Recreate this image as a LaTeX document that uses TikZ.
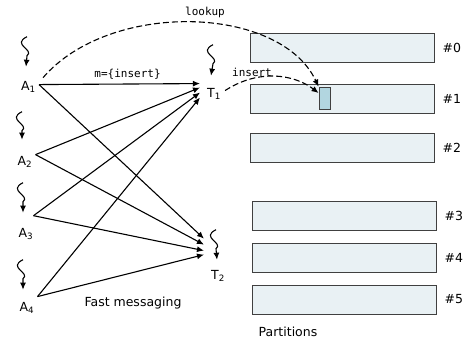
\documentclass[tikz,border=0pt]{standalone}
\usepackage{fontspec}
\setmainfont{DejaVu Sans}
\setmonofont{DejaVu Sans Mono}
\usepackage{xcolor}
\usetikzlibrary{positioning,arrows.meta,calc}

\definecolor{partfill}{RGB}{233,241,244}
\definecolor{slotfill}{RGB}{178,214,224}

\begin{document}
\begin{tikzpicture}[x=1pt, y=-1pt,
  every node/.style={inner sep=1pt, font=\fontsize{12.5}{15}\selectfont},
  agent/.style={anchor=base, inner sep=3pt},
  tbl/.style={anchor=base, inner xsep=7pt, inner ysep=3pt},
  part/.style={draw=black!75, line width=0.9pt, fill=partfill, minimum width=184pt, minimum height=29pt, inner sep=0pt},
  slot/.style={draw=black!75, line width=0.9pt, fill=slotfill, minimum width=11pt, minimum height=22pt, inner sep=0pt},
  mono/.style={font=\fontsize{11}{13}\selectfont\ttfamily},
  msg/.style={line width=1.1pt, -{Latex[length=7pt,width=6pt]}},
  lookupline/.style={line width=1.1pt, dash pattern=on 6pt off 3pt, -{Latex[length=7pt,width=6pt]}},
  squig/.style={line width=1.1pt, -{Latex[length=7pt,width=6pt]},
    to path={(\tikztostart) .. controls ($(\tikztostart)+(-16,8)$) and ($(\tikztostart)+(8,13)$)
      .. ($(\tikztostart)+(0,19)$) -- (\tikztotarget)}}]
  \useasboundingbox (0,0) rectangle (468,341);

  % Partitions
  \node[part] (p0) at (342,47.5) {};
  \node[part] (p1) at (342,98.5) {};
  \node[part] (p2) at (342,147.5) {};
  \node[part] (p3) at (344,215.5) {};
  \node[part] (p4) at (344,257.5) {};
  \node[part] (p5) at (344,299.5) {};
  \foreach \i in {0,...,5}
    \node[right=7pt of p\i] (l\i) {\#\i};
  \node (parts) at (288,332) {Partitions};
  \node[slot] (slot) at (324.5,98) {};

  % Agents and tables
  \node[agent] (A1) at (28.5,90) {A\textsubscript{1}};
  \node[agent] (A2) at (25,165) {A\textsubscript{2}};
  \node[agent] (A3) at (26,237) {A\textsubscript{3}};
  \node[agent] (A4) at (27,311) {A\textsubscript{4}};
  \node[tbl] (T1) at (214,97) {T\textsubscript{1}};
  \node[tbl] (T2) at (218,279) {T\textsubscript{2}};
  \node (fast) at (133,303) {Fast messaging};

  % Threads
  \draw[squig] ([xshift=-1.5pt,yshift=41pt]A1.north) to ([xshift=-2.5pt,yshift=11pt]A1.north);
  \draw[squig] ([xshift=-3pt,yshift=41pt]A2.north) to ([xshift=-3pt,yshift=13pt]A2.north);
  \draw[squig] ([xshift=-3pt,yshift=42pt]A3.north) to ([xshift=-3pt,yshift=12pt]A3.north);
  \draw[squig] ([xshift=-4pt,yshift=39pt]A4.north) to ([xshift=-4pt,yshift=9pt]A4.north);
  \draw[squig] ([xshift=-1pt,yshift=40pt]T1.north) to ([xshift=-3pt,yshift=9pt]T1.north);
  \draw[squig] ([xshift=-2pt,yshift=37pt]T2.north) to ([xshift=-1pt,yshift=7pt]T2.north);

  % Messages to T1
  \draw[msg] ([yshift=2pt]A1.east) -- ([yshift=10pt]T1.west)
    node[pos=0.55, above=3pt, mono] {m=\{insert\}};
  \draw[msg] ([yshift=7pt]A2.east) -- ([yshift=6pt]T1.west);
  \draw[msg] ([xshift=-3pt,yshift=18pt]A3.east) -- ([yshift=1pt]T1.west);
  \draw[msg] ([yshift=11pt]A4.east) -- ([yshift=-4pt]T1.west);
  % Messages to T2
  \draw[msg] ([yshift=2pt]A1.east) -- ([yshift=37pt]T2.west);
  \draw[msg] ([yshift=7pt]A2.east) -- ([yshift=31pt]T2.west);
  \draw[msg] ([xshift=-3pt,yshift=18pt]A3.east) -- ([yshift=25pt]T2.west);
  \draw[msg] ([yshift=11pt]A4.east) -- ([yshift=21pt]T2.west);

  % Lookup and insert into partition #1
  \draw[lookupline] ([xshift=4pt]A1.north east) .. controls (110,0) and (280,5) .. (slot.north west);
  \node[mono] (lookup) at (205,12) {lookup};
  \draw[lookupline] ([xshift=-3pt,yshift=3pt]T1.east) .. controls (260,68) and (295,75) .. ([yshift=5pt]slot.west);
  \node[mono] (insert) at (252,72) {insert};
\end{tikzpicture}
\end{document}
